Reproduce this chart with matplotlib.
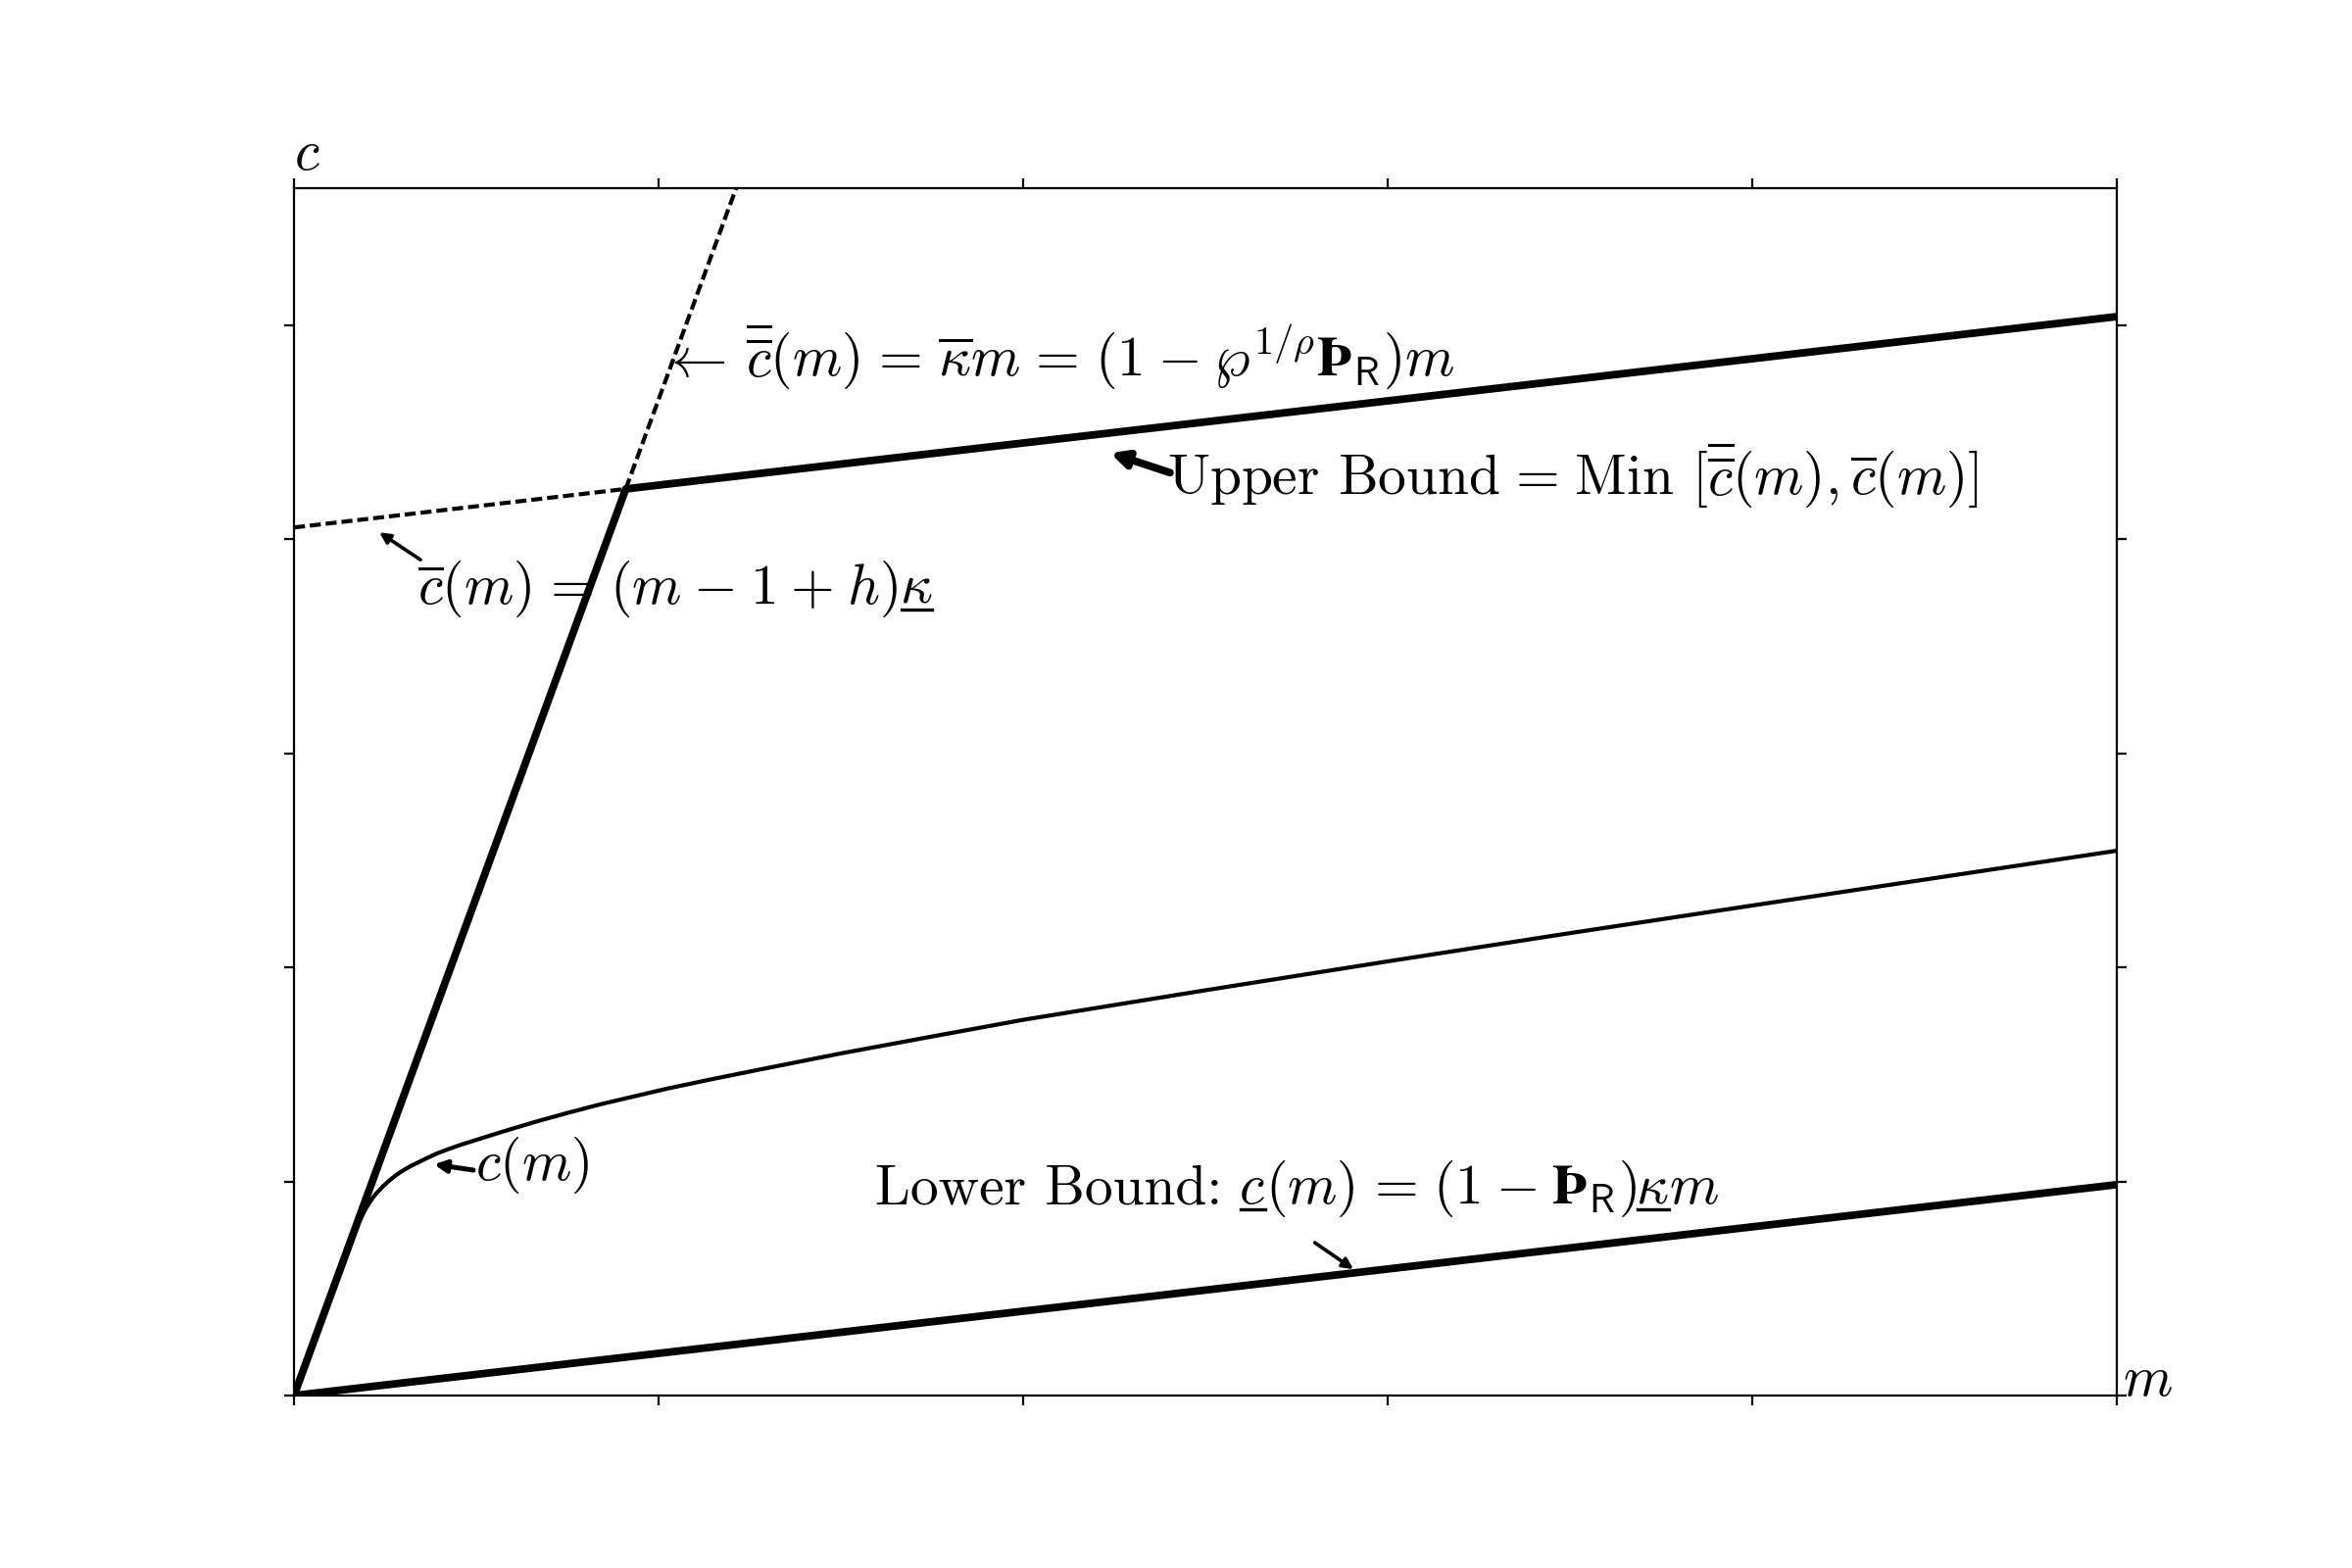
import matplotlib
matplotlib.use("Agg")
import matplotlib.pyplot as plt
import matplotlib.transforms as mtransforms
from matplotlib.lines import Line2D

plt.rcParams['mathtext.fontset'] = 'cm'
plt.rcParams['font.family'] = 'serif'
plt.rcParams['font.serif'] = ['cmr10', 'DejaVu Serif']
plt.rcParams['axes.formatter.use_mathtext'] = True

# Bounds (m, c)
upper_m = [0.0, 0.91, 5.0]
upper_c = [0.0, 4.235, 5.04]
steep_dash_m = [0.91, 1.30]
steep_dash_c = [4.235, 6.045]
flat_dash_m = [0.0, 0.91]
flat_dash_c = [4.055, 4.235]
lower_m = [0.0, 5.0]
lower_c = [0.0, 0.985]

# Consumption function c(m)
cfunc_m = [0.0, 0.05, 0.1, 0.13, 0.15, 0.165, 0.178, 0.188, 0.197, 0.206, 0.217,
           0.2285, 0.244, 0.26, 0.278, 0.296, 0.318, 0.3405, 0.367, 0.394, 0.425,
           0.457, 0.511, 0.573, 0.663, 0.75, 0.842, 1.022, 1.15, 1.29, 1.5,
           1.75, 2.0, 2.5, 3.0, 3.5, 4.0, 4.5, 5.0]
cfunc_c = [0.0, 0.2325, 0.463, 0.601, 0.691, 0.756, 0.808, 0.844, 0.873, 0.898, 0.926,
           0.949, 0.977, 1.002, 1.027, 1.048, 1.070, 1.089, 1.111, 1.132, 1.152,
           1.171, 1.200, 1.233, 1.279, 1.320, 1.361, 1.433, 1.479, 1.527, 1.598,
           1.677, 1.755, 1.893, 2.028, 2.160, 2.289, 2.417, 2.545]

m_max = 5.0
c_max = 5.64
fs = 20.7
dpi = 200

# TeX-like spacing around relations and binary operators
EQ = r'\hspace{0.116}=\hspace{0.116}'
MI = r'\hspace{0.053}-\hspace{0.053}'
PL = r'\hspace{0.053}+\hspace{0.053}'

fig, ax = plt.subplots(figsize=(12, 8), dpi=dpi)

ax.plot(upper_m, upper_c, color='black', lw=2.8)
ax.plot(steep_dash_m, steep_dash_c, color='black', lw=1.5, dashes=(2.7, 1.2))
ax.plot(flat_dash_m, flat_dash_c, color='black', lw=1.5, dashes=(2.7, 1.2))
ax.plot(lower_m, lower_c, color='black', lw=2.8)
ax.plot(cfunc_m, cfunc_c, color='black', lw=1.5, solid_joinstyle='round')

ax.set_xlim(0, m_max)
ax.set_ylim(0, c_max)
ax.set_xticks([0, 1, 2, 3, 4, 5])
ax.set_yticks([0, 1, 2, 3, 4, 5])
ax.tick_params(direction='out', top=True, right=True,
               labelbottom=False, labelleft=False)

ax.annotate(r'$c$', xy=(0, c_max), xytext=(0, 3), textcoords='offset points',
            ha='left', va='bottom', fontsize=fs, annotation_clip=False)
ax.annotate(r'$m$', xy=(m_max, 0), xytext=(2, 0), textcoords='offset points',
            ha='left', va='baseline', fontsize=fs, annotation_clip=False)

renderer = fig.canvas.get_renderer()


def chain(x, y, pieces):
    # pieces: (text, underline, gap before in points), laid out along one baseline
    dx = 0.0
    base = ax.transData.transform((x, y))[1]
    for s, ul, gap in pieces:
        dx += gap * dpi / 72
        tr = mtransforms.offset_copy(ax.transData, fig=fig, x=dx, y=0, units='dots')
        t = ax.text(x, y, s, transform=tr, ha='left', va='baseline', fontsize=fs)
        bb = t.get_window_extent(renderer)
        if ul:
            yl = base - 0.11 * fs * dpi / 72
            fig.add_artist(Line2D([bb.x0 + 2, bb.x1], [yl, yl], color='black',
                                  lw=1.2, transform=mtransforms.IdentityTransform()))
        dx += bb.width


chain(1.005, 4.76, [
    (r'$\leftarrow$', False, 0),
    (r'$\overline{\overline{c}}(m)' + EQ + r'\overline{\kappa}m' + EQ +
     r'(1' + MI + r'\wp^{1/\rho}\mathbf{Þ}_{\mathsf{R}})m$', False, 7.5),
])

chain(2.395, 4.206, [
    (r'Upper Bound$' + EQ + r'$Min $[\overline{\overline{c}}(m), \overline{c}(m)]$',
     False, 0),
])
ax.annotate('', xy=(2.239, 4.403), xytext=(2.403, 4.311),
            arrowprops=dict(arrowstyle='-|>', color='black', lw=2.8,
                            mutation_scale=12, shrinkA=0, shrinkB=0))

chain(0.339, 3.70, [
    (r'$\overline{c}(m)' + EQ + r'(m' + MI + r'1' + PL + r'h)$', False, 0),
    (r'$\kappa$', True, 0.5),
])
ax.annotate('', xy=(0.234, 4.032), xytext=(0.347, 3.904),
            arrowprops=dict(arrowstyle='-|>', color='black', lw=1.3,
                            mutation_scale=8, shrinkA=0, shrinkB=0))

chain(0.497, 1.007, [(r'$c(m)$', False, 0)])
ax.annotate('', xy=(0.384, 1.080), xytext=(0.492, 1.053),
            arrowprops=dict(arrowstyle='-|>', color='black', lw=1.8,
                            mutation_scale=9, shrinkA=0, shrinkB=0))

chain(1.594, 0.897, [
    ('Lower Bound:', False, 0),
    (r'$c$', True, 6),
    (r'$(m)' + EQ + r'(1' + MI + r'\mathbf{Þ}_{\mathsf{R}})$', False, 0),
    (r'$\kappa$', True, 0),
    (r'$m$', False, 0),
])
ax.annotate('', xy=(2.906, 0.59), xytext=(2.80, 0.714),
            arrowprops=dict(arrowstyle='-|>', color='black', lw=1.3,
                            mutation_scale=8, shrinkA=0, shrinkB=0))

fig.savefig('out.png', dpi=dpi)
